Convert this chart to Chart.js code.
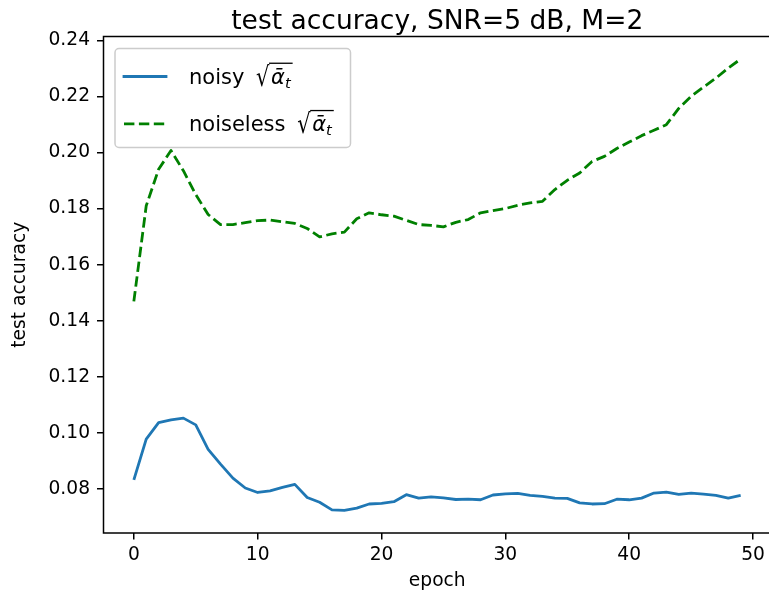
<!DOCTYPE html>
<html><head><meta charset="utf-8">
<script src="https://cdn.jsdelivr.net/npm/chart.js@4.4.0/dist/chart.umd.min.js"></script>
<style>html,body{margin:0;padding:0;overflow:hidden;background:#fff}
#wrap{position:absolute;left:0;top:0;width:780px;height:601px}</style>
</head><body><div id="wrap"><canvas id="c" width="780" height="601"></canvas></div>
<script>
const epochs = [0,1,2,3,4,5,6,7,8,9,10,11,12,13,14,15,16,17,18,19,20,21,22,23,24,25,26,27,28,29,30,31,32,33,34,35,36,37,38,39,40,41,42,43,44,45,46,47,48,49];
const noisy = [0.0833,0.0978,0.1037,0.1047,0.1053,0.1029,0.0942,0.0889,0.0839,0.0804,
  0.0788,0.0794,0.0806,0.0817,0.0770,0.0753,0.0726,0.0724,0.0732,0.0747,
  0.0749,0.0755,0.0780,0.0768,0.0772,0.0769,0.0763,0.0764,0.0762,0.0779,
  0.0783,0.0785,0.0778,0.0774,0.0768,0.0767,0.0751,0.0747,0.0748,0.0764,
  0.0762,0.0768,0.0786,0.0789,0.0781,0.0786,0.0782,0.0778,0.0768,0.0778];
const noiseless = [0.1469,0.1810,0.1940,0.2007,0.1935,0.1850,0.1779,0.1743,0.1743,0.1750,
  0.1757,0.1759,0.1753,0.1747,0.1729,0.1699,0.1710,0.1716,0.1764,0.1785,
  0.1778,0.1773,0.1758,0.1743,0.1740,0.1735,0.1751,0.1761,0.1785,0.1793,
  0.1800,0.1812,0.1820,0.1826,0.1868,0.1901,0.1927,0.1968,0.1986,0.2014,
  0.2037,0.2060,0.2079,0.2099,0.2157,0.2200,0.2233,0.2265,0.2301,0.2333];
const xTicks = [0,10,20,30,40,50];
const yTicks = [0.08,0.10,0.12,0.14,0.16,0.18,0.20,0.22,0.24];
const legendLabels = ['noisy', 'noiseless'];
const titleText = 'test accuracy, SNR=5 dB, M=2';
const xLabel = 'epoch';
const yLabel = 'test accuracy';

const FONT = '"DejaVu Sans", "Liberation Sans", sans-serif';
const allY = noisy.concat(noiseless);
const yMinD = Math.min(...allY), yMaxD = Math.max(...allY);
const yPad = (yMaxD - yMinD) * 0.05;
const xMinD = Math.min(...epochs), xMaxD = Math.max(...epochs);
const xPad = (xMaxD - xMinD) * 0.05;

const framePlugin = {
  id: 'frame',
  afterDatasetsDraw(chart) {
    const {ctx, chartArea: a} = chart;
    ctx.save();
    ctx.strokeStyle = '#000'; ctx.lineWidth = 1.5;
    ctx.strokeRect(a.left, a.top, a.right - a.left, a.bottom - a.top);
    ctx.restore();
  }
};

const titlePlugin = {
  id: 'axtitle',
  afterDraw(chart) {
    const {ctx, chartArea: a} = chart;
    ctx.save();
    ctx.fillStyle = '#000';
    ctx.font = '26.5px ' + FONT;
    ctx.textAlign = 'center'; ctx.textBaseline = 'alphabetic';
    ctx.fillText(titleText, (a.left + a.right) / 2, a.top - 7.5);
    ctx.restore();
  }
};

const legendPlugin = {
  id: 'mlegend',
  afterDraw(chart) {
    const ctx = chart.ctx, a = chart.chartArea;
    const fs = 21;
    const bx = a.left + 11.5, by = a.top + 12, bw = 235.5, bh = 99;
    ctx.save();
    ctx.beginPath(); ctx.roundRect(bx, by, bw, bh, 4);
    ctx.fillStyle = 'rgba(255,255,255,0.8)'; ctx.fill();
    ctx.strokeStyle = '#cccccc'; ctx.lineWidth = 1.5; ctx.stroke();
    chart.data.datasets.forEach((ds, i) => {
      const cy = by + 28 + i * 47.3;
      ctx.beginPath();
      ctx.setLineDash(ds.borderDash || []);
      ctx.lineWidth = ds.borderWidth; ctx.strokeStyle = ds.borderColor;
      ctx.lineCap = ds.borderDash ? 'butt' : 'square';
      ctx.moveTo(bx + 9, cy); ctx.lineTo(bx + 51, cy); ctx.stroke();
      ctx.setLineDash([]);
      ctx.lineCap = 'butt';
      let x = bx + 74;
      const base = cy + 7.5;
      ctx.fillStyle = '#000'; ctx.textBaseline = 'alphabetic'; ctx.textAlign = 'left';
      ctx.font = fs + 'px ' + FONT;
      ctx.fillText(legendLabels[i], x, base);
      x += ctx.measureText(legendLabels[i] + ' ').width + 5;
      const m = ctx.measureText('\u221A');
      const sy = 1.3;
      ctx.save();
      ctx.translate(x, base + 2);
      ctx.scale(1, sy);
      ctx.fillText('\u221A', 0, 0);
      ctx.restore();
      const topY = base + 2 - m.actualBoundingBoxAscent * sy;
      const sx = x + m.actualBoundingBoxRight;
      x = sx + 1;
      ctx.font = 'italic ' + fs + 'px ' + FONT;
      ctx.fillText('\u1FB1', x, base);
      x += ctx.measureText('\u1FB1').width;
      ctx.font = 'italic ' + (fs * 0.7) + 'px ' + FONT;
      ctx.fillText('t', x, base + 4);
      x += ctx.measureText('t').width + 2;
      ctx.beginPath(); ctx.lineWidth = 1.3; ctx.strokeStyle = '#000';
      ctx.moveTo(sx - 1, topY + 0.65); ctx.lineTo(x, topY + 0.65); ctx.stroke();
    });
    ctx.restore();
  }
};

const tickFont = {family: FONT, size: 18.67};
new Chart(document.getElementById('c'), {
  type: 'line',
  data: {
    datasets: [
      {label: legendLabels[0], data: epochs.map((e, i) => ({x: e, y: noisy[i]})),
       borderColor: '#1f77b4', borderWidth: 2.8, pointRadius: 0, tension: 0, fill: false,
       borderJoinStyle: 'round'},
      {label: legendLabels[1], data: epochs.map((e, i) => ({x: e, y: noiseless[i]})),
       borderColor: '#008000', borderWidth: 2.8, borderDash: [10.4, 4.5], pointRadius: 0, tension: 0, fill: false,
       borderJoinStyle: 'round'}
    ]
  },
  options: {
    responsive: false, animation: false, devicePixelRatio: 1,
    layout: {padding: {left: 0, right: 9, top: 36.5, bottom: 0}},
    plugins: {legend: {display: false}, tooltip: {enabled: false}, title: {display: false}},
    scales: {
      x: {
        type: 'linear', min: xMinD - xPad, max: xMaxD + xPad,
        afterBuildTicks: s => { s.ticks = xTicks.map(v => ({value: v})); },
        afterFit: s => { s.height = 68; },
        ticks: {color: '#000', font: tickFont, padding: 4, maxRotation: 0, callback: v => String(v)},
        grid: {display: true, drawOnChartArea: false, drawTicks: true, tickLength: 6.5, color: '#000', lineWidth: 1.5},
        border: {display: false},
        title: {display: true, text: xLabel, color: '#000', font: tickFont, padding: {top: 0, bottom: 9}}
      },
      y: {
        type: 'linear', min: yMinD - yPad, max: yMaxD + yPad,
        afterBuildTicks: s => { s.ticks = yTicks.map(v => ({value: v})); },
        afterFit: s => { s.width = 103.5; },
        ticks: {color: '#000', font: tickFont, padding: 7, callback: v => v.toFixed(2)},
        grid: {display: true, drawOnChartArea: false, drawTicks: true, tickLength: 6.5, color: '#000', lineWidth: 1.5},
        border: {display: false},
        title: {display: true, text: yLabel, color: '#000', font: tickFont, padding: {top: 9, bottom: 0}}
      }
    }
  },
  plugins: [framePlugin, titlePlugin, legendPlugin]
});
</script></body></html>
